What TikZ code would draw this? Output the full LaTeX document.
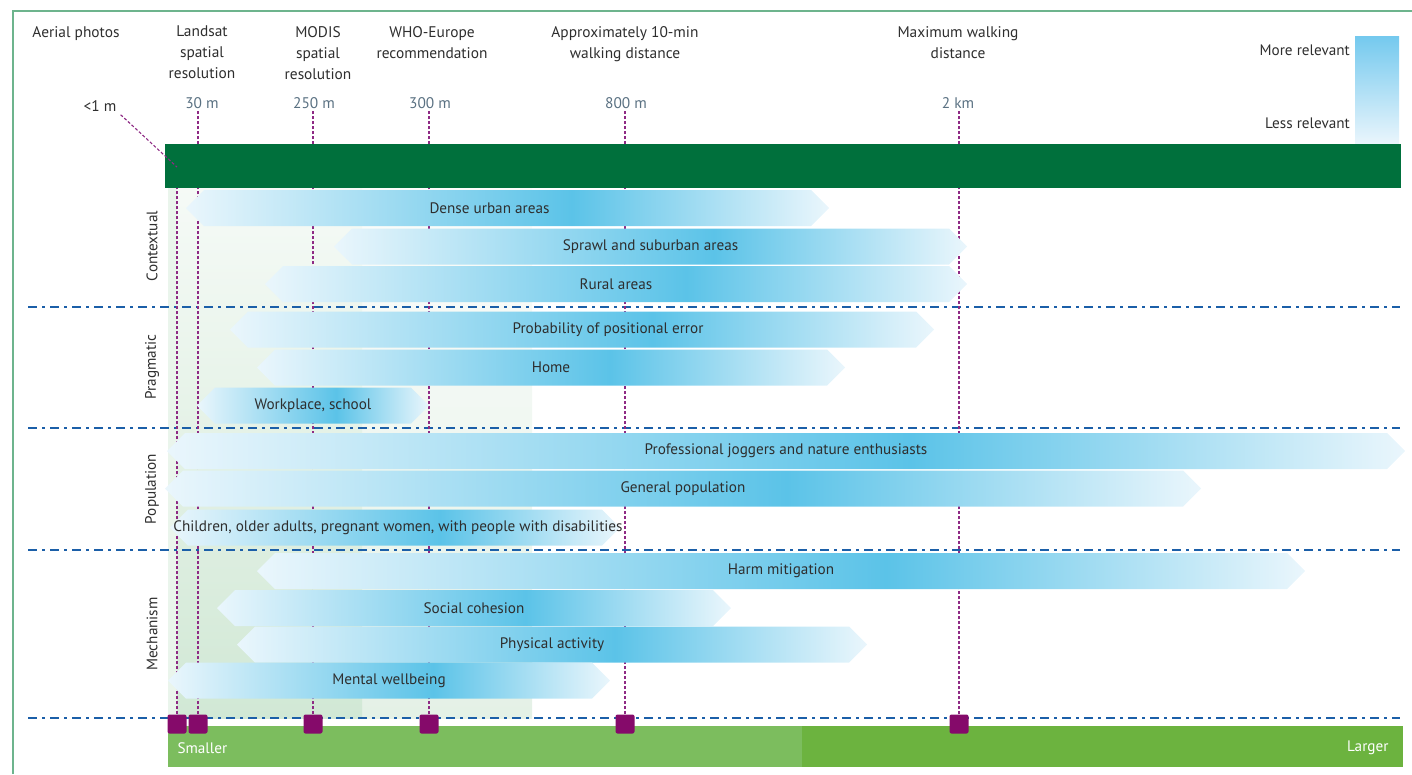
\documentclass[tikz,border=0pt]{standalone}
\usepackage{fontspec}
\setmainfont{PT Sans}
\usetikzlibrary{shapes.symbols}

\definecolor{bandlite}{HTML}{EAF6FC}
\definecolor{bandpeak}{HTML}{5BC3E8}
\definecolor{bargreen}{HTML}{00703C}
\definecolor{lowgreen}{HTML}{7CBD5E}
\definecolor{highgreen}{HTML}{6CB33F}
\definecolor{tickpurple}{HTML}{8E2A84}
\definecolor{markpurple}{HTML}{850A6A}
\definecolor{splitblue}{HTML}{1B5FA8}
\definecolor{scalegray}{HTML}{5A7182}
\definecolor{inkgray}{HTML}{2E2E2E}
\definecolor{framegreen}{HTML}{6DB48D}
\definecolor{bgdeep}{HTML}{D1E8D5}
\definecolor{bgsoft}{HTML}{E4F1E6}

\pgfdeclarehorizontalshading{relevance}{100bp}{color(0bp)=(bandlite); color(25bp)=(bandlite);
  color(55bp)=(bandpeak); color(75bp)=(bandlite); color(100bp)=(bandlite)}

\tikzset{
  band/.style={signal, signal to=east and west, signal pointer angle=90,
    shading=relevance, draw=none, inner sep=0pt, minimum height=36pt},
  bandtext/.style={text=inkgray, inner sep=0pt, font=\fontsize{15.2}{17}\selectfont},
  headtext/.style={text=inkgray, align=center, anchor=north, inner sep=0pt,
    font=\fontsize{15.4}{21}\selectfont},
  scaletext/.style={text=scalegray, inner sep=1pt, font=\fontsize{15.4}{17}\selectfont},
  marker/.style={rectangle, rounded corners=2pt, fill=markpurple,
    minimum width=19pt, minimum height=19pt, inner sep=0pt},
  tick/.style={tickpurple, line width=1.1pt, dash pattern=on 3pt off 2pt},
  divider/.style={splitblue, line width=2.8pt, dash pattern=on 9pt off 5pt on 3pt off 5pt},
}

\begin{document}
\begin{tikzpicture}[x=1pt,y=-1pt]

    \useasboundingbox (0,0) rectangle (1412,774);

    % frame and background tints
    \draw[framegreen, line width=1.5pt] (13,774) -- (13,11) -- (1412,11);
    \fill[top color=bgsoft!15, bottom color=bgsoft] (362,188) rectangle (532,718);
    \fill[top color=bgdeep!20, bottom color=bgdeep] (168,188) rectangle (362,718);
    \fill[bgdeep!45] (168,188) rectangle (177,718);

    % size scale at the bottom
    \node[rectangle, fill=lowgreen, minimum width=634pt, minimum height=41pt,
          inner sep=0pt] (small) at (485,746.5) {};
    \node[rectangle, fill=highgreen, minimum width=601pt, minimum height=41pt,
          inner sep=0pt] (large) at (1102.5,746.5) {};
    \node[text=white, anchor=west, font=\fontsize{15.2}{17}\selectfont] at (174,748) {Smaller};
    \node[text=white, anchor=east, font=\fontsize{15.2}{17}\selectfont] at (1392,748) {Larger};

    % headings
    \node[headtext] (aerial) at (76,26) {Aerial photos};
    \node[headtext] (landsat) at (202,26) {Landsat\\spatial\\resolution};
    \node[headtext] (modis) at (318,26) {MODIS\\spatial\\resolution};
    \node[headtext] (who) at (432,26) {WHO-Europe\\recommendation};
    \node[headtext] (walk) at (625,26) {Approximately 10-min\\walking distance};
    \node[headtext] (maxwalk) at (958,26) {Maximum walking\\distance};

    % legend
    \node[rectangle, top color={rgb,255:red,116;green,201;blue,238},
          bottom color={rgb,255:red,233;green,245;blue,252},
          minimum width=44pt, minimum height=107pt, inner sep=0pt] (legend) at (1377,89.5) {};
    \node[bandtext, anchor=east] (more) at (1350,50) {More relevant};
    \node[bandtext, anchor=east] (less) at (1350,123) {Less relevant};

    % scale values
    \node[scaletext, text=inkgray] (lt1) at (100,106) {<1 m};
    \node[scaletext] (s30) at (202,103) {30 m};
    \node[scaletext] (s250) at (314,103) {250 m};
    \node[scaletext] (s300) at (430,103) {300 m};
    \node[scaletext] (s800) at (626,103) {800 m};
    \node[scaletext] (s2k) at (958,103) {2 km};

    % section dividers
    \coordinate (d1w) at (28,307);  \coordinate (d1e) at (1400,307);
    \coordinate (d2w) at (28,428);  \coordinate (d2e) at (1400,428);
    \coordinate (d3w) at (28,550);  \coordinate (d3e) at (1400,550);
    \coordinate (d4w) at (28,718);  \coordinate (d4e) at (1400,718);
    \draw[divider] (d1w) -- (d1e);
    \draw[divider] (d2w) -- (d2e);
    \draw[divider] (d3w) -- (d3e);
    \draw[divider] (d4w) -- (d4e);

    % markers
    \node[marker] (m1) at (177,724) {};
    \node[marker] (m30) at (198,724) {};
    \node[marker] (m250) at (313,724) {};
    \node[marker] (m300) at (429,724) {};
    \node[marker] (m800) at (625,724) {};
    \node[marker] (m2k) at (959,724) {};

    \draw[tick] (m30.north) -- (m30.north |- s30.south);
    \draw[tick] (m250.north) -- (m250.north |- s250.south);
    \draw[tick] (m300.north) -- (m300.north |- s300.south);
    \draw[tick] (m800.north) -- (m800.north |- s800.south);
    \draw[tick] (m2k.north) -- (m2k.north |- s2k.south);

    % imagery bar
    \node[rectangle, fill=bargreen, minimum width=1236pt, minimum height=44pt,
          inner sep=0pt] (imgbar) at (783,166) {};
    \coordinate (kink) at (177,167);
    \draw[tick] ([xshift=3pt,yshift=-2pt]lt1.south east) -- (kink);
    \draw[tick] (m1.north) -- (m1.north |- imgbar.south);

    % contextual
    \node[band, minimum width=643pt] (dense) at (507.5,208) {};
    \node[bandtext] at ([xshift=-18pt]dense.center) {Dense urban areas};
    \node[band, minimum width=633pt] (sprawl) at (650.5,246.5) {};
    \node[bandtext] at (sprawl.center) {Sprawl and suburban areas};
    \node[band, minimum width=702pt] (rural) at (616,284) {};
    \node[bandtext] at (rural.center) {Rural areas};

    % pragmatic
    \node[band, minimum width=704pt] (prob) at (582,329.5) {};
    \node[bandtext] at ([xshift=26pt]prob.center) {Probability of positional error};
    \node[band, minimum width=588pt] (home) at (551,367.5) {};
    \node[bandtext] at (home.center) {Home};
    \node[band, minimum width=232pt] (work) at (313,405.5) {};
    \node[bandtext] at (work.center) {Workplace, school};

    % population
    \node[band, minimum width=1238pt] (joggers) at (786,451) {};
    \node[bandtext] at (joggers.center) {Professional joggers and nature enthusiasts};
    \node[band, minimum width=1036pt] (general) at (683,488.5) {};
    \node[bandtext] at (general.center) {General population};
    \node[band, minimum width=450pt] (vulner) at (395,527.5) {};
    \node[bandtext] at ([xshift=3pt]vulner.center) {Children, older adults, pregnant women, with people with disabilities};

    % mechanism
    \node[band, minimum width=1048pt] (harm) at (781,571) {};
    \node[bandtext] at (harm.center) {Harm mitigation};
    \node[band, minimum width=514pt] (social) at (474,608) {};
    \node[bandtext] at (social.center) {Social cohesion};
    \node[band, minimum width=630pt] (physical) at (552,644.5) {};
    \node[bandtext] at (physical.center) {Physical activity};
    \node[band, minimum width=442pt] (mental) at (389,680.5) {};
    \node[bandtext] at (mental.center) {Mental wellbeing};

    % section names
    \node[bandtext, rotate=90] (ctx) at (152,246) {Contextual};
    \node[bandtext, rotate=90] (prag) at (152,367) {Pragmatic};
    \node[bandtext, rotate=90] (pop) at (152,489) {Population};
    \node[bandtext, rotate=90] (mech) at (152,634) {Mechanism};

\end{tikzpicture}
\end{document}
